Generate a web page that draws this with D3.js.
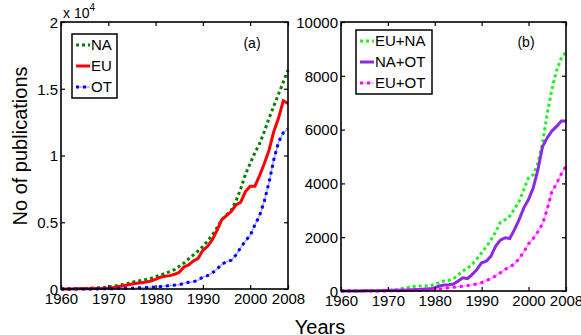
<!DOCTYPE html>
<html>
<head>
<meta charset="utf-8">
<script src="https://cdn.jsdelivr.net/npm/d3@7"></script>
<style>
  body { margin: 0; background: #fff; }
  svg text { font-family: "Liberation Sans", Arial, sans-serif; fill: #000; }
</style>
</head>
<body>
<svg id="chart" width="581" height="335"></svg>
<script>
// years 1960 .. 2008
var years = d3.range(1960, 2009);
var xTicks = [1960, 1970, 1980, 1990, 2000, 2008];

// panel (a)
var naPubs = [0, 0, 10, 20, 30, 40, 60, 80, 100, 120,
    150, 200, 260, 330, 400, 500, 580, 650, 720, 800,
    920, 1050, 1180, 1300, 1450, 1700, 1950, 2250, 2550, 2850,
    3200, 3600, 4050, 4600, 5200, 5550, 5900, 6600, 7500, 8600,
    9400, 10200, 10900, 11800, 12800, 13700, 14600, 15500, 16400];
var euPubs = [0, 0, 0, 10, 10, 20, 20, 30, 40, 60,
    80, 120, 170, 230, 300, 380, 430, 470, 520, 600,
    720, 880, 950, 1000, 1100, 1250, 1650, 1800, 2100, 2300,
    2900, 3200, 3700, 4400, 5200, 5500, 5800, 6300, 6500, 7300,
    7700, 7700, 8500, 9400, 10400, 11800, 12800, 14100, 13900];
var otPubs = [0, 0, 0, 0, 0, 0, 0, 0, 10, 10,
    20, 20, 30, 40, 50, 60, 80, 100, 110, 130,
    150, 180, 220, 260, 290, 320, 420, 500, 550, 650,
    900, 1000, 1200, 1500, 1850, 2050, 2150, 2550, 3100, 3600,
    4000, 4800, 5500, 6600, 8000, 9700, 11000, 11700, 12000];
var aTicks = [0, 5000, 10000, 15000, 20000];
var aTickLabels = ["0", "0.5", "1", "1.5", "2"];

// panel (b)
var euNaPubs = [0, 0, 0, 0, 5, 10, 10, 15, 20, 25,
    30, 40, 60, 90, 120, 160, 175, 185, 190, 200,
    250, 320, 370, 400, 460, 600, 740, 850, 990, 1200,
    1420, 1650, 1900, 2200, 2550, 2650, 2780, 3050, 3330, 3770,
    4200, 4320, 4750, 5500, 6600, 7500, 8200, 8650, 8900];
var naOtPubs = [0, 0, 0, 0, 0, 5, 5, 10, 10, 15,
    20, 25, 30, 35, 40, 50, 55, 60, 70, 80,
    120, 185, 220, 230, 260, 370, 490, 460, 620, 800,
    1050, 1110, 1300, 1670, 1890, 1980, 1950, 2280, 2650, 3090,
    3400, 3830, 4500, 5370, 5700, 5950, 6120, 6320, 6320];
var euOtPubs = [0, 0, 0, 0, 0, 0, 0, 0, 0, 0,
    5, 5, 10, 10, 15, 20, 25, 30, 35, 40,
    50, 70, 100, 120, 140, 160, 180, 200, 230, 260,
    310, 380, 470, 560, 680, 800, 900, 1000, 1200, 1450,
    1750, 1950, 2200, 2500, 3050, 3700, 4000, 4350, 4650];
var bTicks = [0, 2000, 4000, 6000, 8000, 10000];
var bTickLabels = ["0", "2000", "4000", "6000", "8000", "10000"];

var svg = d3.select('svg#chart');

function drawPanel(p) {
    var x = d3.scaleLinear().domain([1960, 2008]).range([p.left, p.right]);
    var y = d3.scaleLinear().domain([0, p.yMax]).range([p.bottom, p.top]);
    var g = svg.append('g');

    // series
    var line = d3.line()
        .x(function (d) { return x(d.year); })
        .y(function (d) { return y(d.v); });
    p.series.forEach(function (s) {
        var pts = years.map(function (yr, i) { return { year: yr, v: s.values[i] }; });
        if (s.style === 'dashdot') {
            g.append('path').attr('d', line(pts)).attr('fill', 'none')
                .attr('stroke', s.color).attr('stroke-opacity', 0.35).attr('stroke-width', 1.5);
        }
        g.append('path').attr('d', line(pts)).attr('fill', 'none')
            .attr('stroke', s.color).attr('stroke-width', 3)
            .attr('stroke-dasharray', s.style === 'solid' ? null : (s.style === 'dashdot' ? '3,4' : '3,3'));
    });

    // box
    g.append('rect').attr('x', p.left).attr('y', p.top)
        .attr('width', p.right - p.left).attr('height', p.bottom - p.top)
        .attr('fill', 'none').attr('stroke', '#000').attr('stroke-width', 1.6);

    // axes (ticks inward)
    var xAxis = d3.axisBottom(x).tickValues(xTicks).tickSize(-4).tickPadding(4)
        .tickFormat(d3.format('d'));
    var gx = g.append('g').attr('transform', 'translate(0,' + p.bottom + ')').call(xAxis);
    g.append('g').attr('transform', 'translate(0,' + p.top + ')')
        .call(d3.axisTop(x).tickValues(xTicks).tickSize(-4).tickFormat(''));
    var yAxis = d3.axisLeft(y).tickValues(p.yTicks).tickSize(-4).tickPadding(3)
        .tickFormat(function (d, i) { return p.yLabels[i]; });
    var gy = g.append('g').attr('transform', 'translate(' + p.left + ',0)').call(yAxis);
    g.append('g').attr('transform', 'translate(' + p.right + ',0)')
        .call(d3.axisRight(y).tickValues(p.yTicks).tickSize(-4).tickFormat(''));
    g.selectAll('.domain').remove();
    g.selectAll('.tick line').attr('stroke', '#000').attr('stroke-width', 1.2);
    g.selectAll('.tick text').attr('font-size', 15)
        .attr('font-family', '"Liberation Sans", Arial, sans-serif').attr('fill', '#000');
    gx.selectAll('.tick text').attr('dy', '0.71em');
    gy.selectAll('.tick text').attr('dy', '0.35em');

    // panel tag
    g.append('text').attr('x', p.tagX).attr('y', p.tagY).attr('font-size', 14)
        .attr('text-anchor', 'middle').text(p.tag);

    // legend
    var lg = g.append('g').attr('class', 'legend');
    lg.append('rect').attr('x', p.legX).attr('y', p.legY)
        .attr('width', p.legW).attr('height', 64)
        .attr('fill', '#fff').attr('stroke', '#000').attr('stroke-width', 1.5);
    p.series.forEach(function (s, i) {
        var ly = p.legY + 11 + i * 21;
        if (s.style === 'dashdot') {
            lg.append('line').attr('x1', p.legX + 4).attr('x2', p.legX + 18)
                .attr('y1', ly).attr('y2', ly).attr('stroke', s.color)
                .attr('stroke-opacity', 0.35).attr('stroke-width', 1.5);
        }
        lg.append('line').attr('x1', p.legX + 4).attr('x2', p.legX + 18)
            .attr('y1', ly).attr('y2', ly).attr('stroke', s.color).attr('stroke-width', 3)
            .attr('stroke-dasharray', s.style === 'solid' ? null : (s.style === 'dashdot' ? '3,4' : '3,3'));
        lg.append('text').attr('x', p.legX + 19).attr('y', ly).attr('dy', '0.35em')
            .attr('font-size', 15).text(s.name);
    });
    return g;
}

var ga = drawPanel({
    left: 61, right: 288, top: 22, bottom: 289, yMax: 20000,
    yTicks: aTicks, yLabels: aTickLabels,
    tag: '(a)', tagX: 252, tagY: 48,
    legX: 72, legY: 34, legW: 45,
    series: [
        { name: 'NA', values: naPubs, color: '#008000', style: 'dotted' },
        { name: 'EU', values: euPubs, color: '#ff0000', style: 'solid' },
        { name: 'OT', values: otPubs, color: '#0000ff', style: 'dashdot' }
    ]
});
// exponent label
var ex = ga.append('text').attr('x', 63).attr('y', 18).attr('font-size', 14);
ex.append('tspan').text('x 10');
ex.append('tspan').attr('font-size', 10).attr('dy', -7).text('4');

drawPanel({
    left: 341, right: 566, top: 22, bottom: 291, yMax: 10000,
    yTicks: bTicks, yLabels: bTickLabels,
    tag: '(b)', tagX: 526, tagY: 47,
    legX: 356, legY: 30, legW: 76,
    series: [
        { name: 'EU+NA', values: euNaPubs, color: '#22ee22', style: 'dotted' },
        { name: 'NA+OT', values: naOtPubs, color: '#8a2be2', style: 'solid' },
        { name: 'EU+OT', values: euOtPubs, color: '#ff00ff', style: 'dashdot' }
    ]
});

// axis titles
svg.append('text').attr('transform', 'translate(27,146) rotate(-90)')
    .attr('text-anchor', 'middle').attr('font-size', 20).text('No of publications');
svg.append('text').attr('x', 320).attr('y', 334)
    .attr('text-anchor', 'middle').attr('font-size', 20).text('Years');
</script>
</body>
</html>
